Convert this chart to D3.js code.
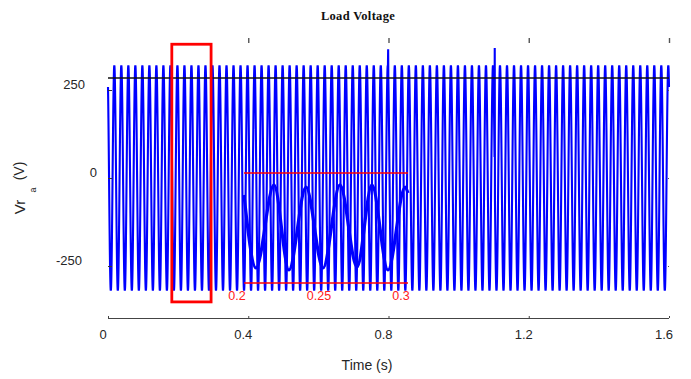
<!DOCTYPE html>
<html><head><meta charset="utf-8">
<script src="https://cdn.jsdelivr.net/npm/d3@7"></script>
<style>
html,body{margin:0;padding:0;background:#fff;}
svg{display:block;}
</style></head>
<body>
<svg id="c" width="691" height="379"></svg>
<script>
// ---- data ----
const timeTicks = [0, 0.4, 0.8, 1.2, 1.6];
const voltTicks = [-250, 0, 250];
const insetTicks = [0.2, 0.25, 0.3];
const timeSpan = [0, 1.6];
// main load-voltage signal: 50 Hz, ~320 V peak
const freqHz = 50;
const amplitudeV = 320;
const phaseRad = 2.2;
// transient spikes [time s, volts]
const spikeTimes = [0.799, 1.103];
const spikeVolts = [366, 369];
// horizontal reference line level (V)
const refLineV = 284;
// red zoom box around 0.2-0.3 s
const boxTimes = [0.182, 0.294];
const boxVolts = [-352, 380];
// inset (zoom of 0.2-0.3 s): extrema
const insetTimes = [0.2, 0.2073, 0.2183, 0.2274, 0.2378, 0.2482, 0.2585, 0.2689, 0.2780, 0.2878, 0.2982, 0.3];
const insetVolts = [249, -302, 325, -317, 309, -302, 325, -294, 325, -317, 309, 264];
const insetRange = [-415, 415];

// ---- layout ----
const svg = d3.select("#c");
const x = d3.scaleLinear().domain(timeSpan).range([108, 669]);
const y = d3.scaleLinear().domain([-250, 250]).range([266, 90]);
const xi = d3.scaleLinear().domain([0.2, 0.3]).range([244, 408]);
const yi = d3.scaleLinear().domain(insetRange).range([283, 173]);

// main waveform samples
const dt = 0.0004;
let pts = d3.range(timeSpan[0], timeSpan[1] + dt/2, dt).map(t => [t, amplitudeV * Math.sin(2*Math.PI*freqHz*t + phaseRad)]);
spikeTimes.forEach((ts, i) => {
  pts = pts.filter(p => Math.abs(p[0]-ts) > 0.0003);
  pts.push([ts, spikeVolts[i]]);
});
pts.sort((a,b) => a[0]-b[0]);

const line = d3.line().x(d => x(d[0])).y(d => y(d[1]));
svg.append("path").attr("d", line(pts))
  .attr("fill","none").attr("stroke","#0000ff").attr("stroke-width",2.1);

// top reference line
svg.append("line").attr("x1", x(timeSpan[0])).attr("x2", x(timeSpan[1]))
  .attr("y1", y(refLineV)).attr("y2", y(refLineV))
  .attr("stroke","#111").attr("stroke-width",1.4);

// left y ticks
const yAxisL = d3.axisRight(y).tickValues(voltTicks).tickSize(4).tickFormat("");
svg.append("g").attr("transform",`translate(${x(0)},0)`).call(yAxisL)
  .call(g => g.select(".domain").remove())
  .selectAll("line").attr("stroke","#333");
const yAxisR = d3.axisLeft(y).tickValues(voltTicks).tickSize(1).tickFormat("");
svg.append("g").attr("transform",`translate(${x(1.6)},0)`).call(yAxisR)
  .call(g => g.select(".domain").remove())
  .selectAll("line").attr("stroke","#555");

// y tick labels
const yLabOffset = {"250": 85, "0": 97, "-250": 82};
svg.append("g").selectAll("text").data(voltTicks).join("text")
  .attr("x", d => yLabOffset[String(d)])
  .attr("y", d => y(d) - 6)
  .attr("dy","0.35em").attr("text-anchor","end")
  .attr("font-family","Liberation Sans, Arial, sans-serif").attr("font-size",13)
  .attr("fill","#262626").text(d => d);

// bottom x axis
const xAxis = d3.axisTop(x).tickValues(timeTicks).tickSize(2).tickFormat("");
const gx = svg.append("g").attr("transform","translate(0,318)").call(xAxis);
gx.select(".domain").attr("stroke","#444").attr("stroke-width",1.2).attr("d",`M${x(0)},0.5H${x(1.6)}`);
gx.selectAll("line").attr("stroke","#444");
svg.append("g").selectAll("text").data(timeTicks).join("text")
  .attr("x", d => x(d) - 5).attr("y", 334).attr("dy","0.35em")
  .attr("text-anchor","middle")
  .attr("font-family","Liberation Sans, Arial, sans-serif").attr("font-size",13)
  .attr("fill","#262626").text(d => d3.format("~g")(d));

// top ticks
const xTop = d3.axisBottom(x).tickValues(timeTicks.filter(d => d > 0)).tickSize(5).tickFormat("");
svg.append("g").attr("transform","translate(0,38)").call(xTop)
  .call(g => g.select(".domain").remove())
  .selectAll("line").attr("stroke","#555").attr("stroke-width",1.4);

// axis titles
svg.append("text").attr("x",367).attr("y",370).attr("text-anchor","middle")
  .attr("font-family","Liberation Sans, Arial, sans-serif").attr("font-size",14)
  .attr("fill","#262626").text("Time (s)");
svg.append("text").attr("transform","translate(25,207) rotate(-90)").attr("text-anchor","middle")
  .attr("font-family","Liberation Sans, Arial, sans-serif").attr("font-size",15)
  .attr("fill","#262626").text("Vr");
svg.append("text").attr("transform","translate(36,190) rotate(-90)").attr("text-anchor","middle")
  .attr("font-family","Liberation Sans, Arial, sans-serif").attr("font-size",9)
  .attr("fill","#262626").text("a");
svg.append("text").attr("transform","translate(24,171) rotate(-90)").attr("text-anchor","middle")
  .attr("font-family","Liberation Sans, Arial, sans-serif").attr("font-size",14)
  .attr("fill","#262626").text("(V)");

// title
svg.append("text").attr("x",358).attr("y",20).attr("text-anchor","middle")
  .attr("font-family","Liberation Serif, serif").attr("font-weight","bold").attr("font-size",12.5)
  .attr("letter-spacing","0.3px")
  .attr("fill","#111").text("Load Voltage");

// red zoom box
svg.append("rect")
  .attr("x", x(boxTimes[0])).attr("y", y(boxVolts[1]))
  .attr("width", x(boxTimes[1]) - x(boxTimes[0]))
  .attr("height", y(boxVolts[0]) - y(boxVolts[1]))
  .attr("fill","none").attr("stroke","#ff0000").attr("stroke-width",2.8);

// inset
const ig = svg.append("g");
insetRange.forEach(v => {
  ig.append("line").attr("x1", xi(0.2)).attr("x2", xi(0.3))
    .attr("y1", yi(v)).attr("y2", yi(v))
    .attr("stroke","#ff0000").attr("stroke-width",1.4);
});
const iline = d3.line().x((d,i) => xi(insetTimes[i])).y((d,i) => yi(insetVolts[i])).curve(d3.curveMonotoneX);
ig.append("path").attr("d", iline(insetTimes))
  .attr("fill","none").attr("stroke","#0000ff").attr("stroke-width",3.2);
ig.selectAll("text").data(insetTicks).join("text")
  .attr("x", d => xi(d) - 7).attr("y", 296).attr("dy","0.35em")
  .attr("text-anchor","middle")
  .attr("font-family","Liberation Sans, Arial, sans-serif").attr("font-size",12.5)
  .attr("fill","#ff2020").text(d => d);
</script>
</body></html>
